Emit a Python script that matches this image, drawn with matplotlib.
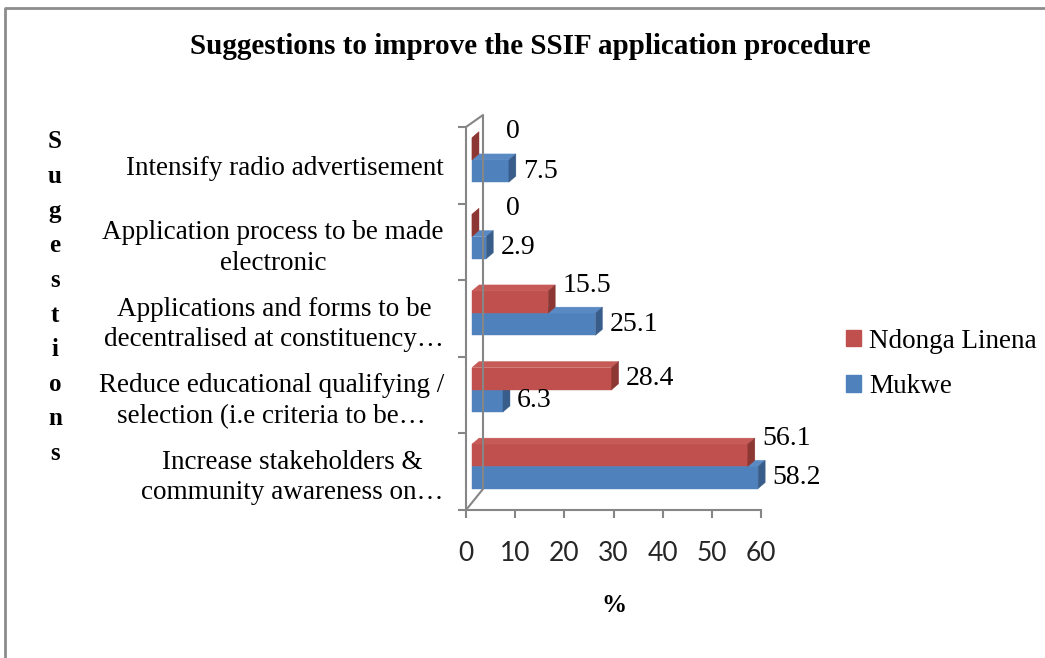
import matplotlib
matplotlib.use("Agg")
import matplotlib.pyplot as plt
from matplotlib.patches import Polygon, Patch
from matplotlib.lines import Line2D
from matplotlib.transforms import IdentityTransform

# ---- data (bottom -> top, as drawn) ----
categories = [
    "Increase stakeholders &\ncommunity awareness on\u2026",
    "Reduce educational qualifying /\nselection (i.e criteria to be\u2026",
    "Applications and forms to be\ndecentralised at constituency\u2026",
    "Application process to be made\nelectronic",
    "Intensify radio advertisement",
]
mukwe = [58.2, 6.3, 25.1, 2.9, 7.5]
ndonga = [56.1, 28.4, 15.5, 0, 0]
series_names = ["Ndonga Linena", "Mukwe"]
x_ticks = [0, 10, 20, 30, 40, 50, 60]

SERIF = "Liberation Serif"
SANS = "Lato"

RED = "#C0504D"
RED_TOP = "#C65A57"
RED_SIDE = "#8C3734"
BLUE = "#4F81BD"
BLUE_TOP = "#5A8AC4"
BLUE_SIDE = "#385D8A"
GRID = "#868686"

W, H = 1045, 658
fig = plt.figure(figsize=(W / 100, H / 100), dpi=100)
ax = fig.add_axes([466 / W, 1 - 510 / H, 295 / W, 383 / H])
ax.set_xlim(0, 60)
ax.set_ylim(-0.5, 4.5)

# axes look
for s in ["top", "right"]:
    ax.spines[s].set_visible(False)
for s in ["left", "bottom"]:
    ax.spines[s].set_color(GRID)
    ax.spines[s].set_linewidth(1.5)
ax.set_xticks(x_ticks)
ax.set_xticklabels([str(t) for t in x_ticks], family=SANS, fontsize=19, color="#262626")
ax.tick_params(axis="x", length=6, width=1.5, color=GRID, pad=16)
ax.set_yticks(range(len(categories)))
ax.set_yticklabels(categories, family=SERIF, fontsize=19.5, linespacing=1.3,
                   multialignment="center")
ax.tick_params(axis="y", which="major", length=0, pad=16)
ax.set_yticks([i - 0.5 for i in range(len(categories) + 1)], minor=True)
ax.tick_params(axis="y", which="minor", length=6, width=1.5, color=GRID)
ax.patch.set_visible(False)

# ---- fake 3D drawing in pixel space ----
OX = 6      # bars sit a little behind the front axis
DX, DY = 7, 6  # bar depth
trans = ax.transData


def px(x, y):
    return trans.transform((x, y))


def face(pts, color):
    ax.add_patch(Polygon(pts, closed=True, facecolor=color, edgecolor=color,
                         linewidth=0.3, transform=IdentityTransform(), clip_on=False))


def bar3d(v, y0, y1, front, top, side):
    x0, yb = px(0, y0)
    x1, yt = px(v, y1)
    x0 += OX
    x1 += OX
    face([(x0, yb), (x1, yb), (x1, yt), (x0, yt)], front)
    face([(x0, yt), (x1, yt), (x1 + DX, yt + DY), (x0 + DX, yt + DY)], top)
    face([(x1, yb), (x1 + DX, yb + DY), (x1 + DX, yt + DY), (x1, yt)], side)
    return x1 + DX, (yb + yt) / 2


# back wall edges
fx, ftop = px(0, 4.5)
_, fbot = px(0, -0.5)
wall = [(fx, ftop), (fx + 17, ftop + 12), (fx + 17, fbot + 21), (fx, fbot)]
fig.add_artist(Line2D([p[0] for p in wall], [p[1] for p in wall], color=GRID,
                      linewidth=1.5, transform=IdentityTransform()))

H_BAR = 0.29
for i in range(len(categories)):
    m, n = mukwe[i], ndonga[i]
    bx, by = bar3d(m, i - 0.22, i - 0.22 + H_BAR, BLUE, BLUE_TOP, BLUE_SIDE)
    rx, ry = bar3d(n, i - 0.22 + H_BAR, i - 0.22 + 2 * H_BAR, RED, RED_TOP, RED_SIDE)
    ax.text(bx + 7, by, f"{m:g}", transform=IdentityTransform(), family=SERIF,
            fontsize=20, va="center", ha="left")
    lift = 17 if m > n else 0
    shift = 20 if n == 0 else 0
    ax.text(rx + 7 + shift, ry + lift, f"{n:g}", transform=IdentityTransform(),
            family=SERIF, fontsize=20, va="center", ha="left")

# titles
fig.text(530 / W, 1 - 47 / H, "Suggestions to improve the SSIF application procedure",
         family=SERIF, fontsize=21, fontweight="bold", ha="center", va="center")
word = "Sugestions"
for k, ch in enumerate(word):
    fig.text(55 / W, 1 - (142 + k * 34.6) / H, ch, family=SERIF, fontsize=18,
             fontweight="bold", ha="center", va="center")
fig.text(614 / W, 1 - 606 / H, "%", family=SERIF, fontsize=18, fontweight="bold",
         ha="center", va="center")

# legend
handles = [Patch(facecolor=RED, edgecolor=RED), Patch(facecolor=BLUE, edgecolor=BLUE)]
fig.legend(handles, series_names, loc="center left", bbox_to_anchor=(822 / W, 1 - 364 / H),
           frameon=False, prop={"family": SERIF, "size": 19.5}, handlelength=0.55,
           handleheight=0.55, handletextpad=0.3, labelspacing=0.75)

# chart border
fig.add_artist(Line2D([5 / W, 5 / W, 1.0], [0.0, 1 - 8 / H, 1 - 8 / H], color="#8c8c8c",
                      linewidth=2, transform=fig.transFigure))

plt.savefig("out.png", dpi=100)
plt.close()
